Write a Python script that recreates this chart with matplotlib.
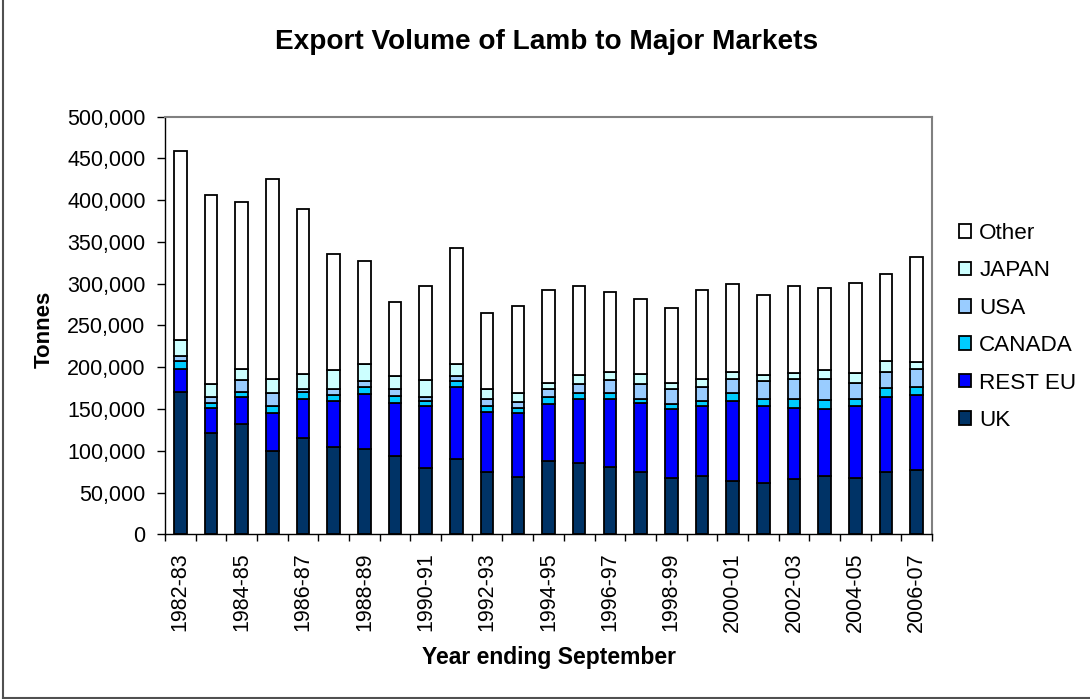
import matplotlib
matplotlib.use("Agg")
import matplotlib.pyplot as plt
from matplotlib.lines import Line2D
from matplotlib.ticker import FuncFormatter, FixedLocator
import numpy as np

plt.rcParams['font.family'] = ['Liberation Sans', 'DejaVu Sans']

years = ["1982-83", "1983-84", "1984-85", "1985-86", "1986-87", "1987-88",
         "1988-89", "1989-90", "1990-91", "1991-92", "1992-93", "1993-94",
         "1994-95", "1995-96", "1996-97", "1997-98", "1998-99", "1999-00",
         "2000-01", "2001-02", "2002-03", "2003-04", "2004-05", "2005-06",
         "2006-07"]

uk = [170700, 121600, 132000, 100100, 114900, 104500, 102100, 93700, 79000,
      89800, 74900, 68200, 87700, 85700, 80900, 74900, 67800, 70100, 64200,
      61800, 65800, 69800, 67800, 74900, 76600]
rest_eu = [27200, 29200, 32700, 44700, 47100, 55400, 65800, 63800, 74600,
           86900, 71900, 76600, 67900, 76300, 81100, 82600, 81800, 83500,
           95700, 91800, 85000, 79800, 85800, 89800, 89800]
canada = [9200, 6700, 6000, 8800, 8000, 6500, 8800, 8400, 6300, 6800, 6800,
          6700, 9100, 6800, 6800, 4800, 6400, 6300, 8900, 8700, 11500, 10800,
          8700, 10100, 10300]
usa = [6700, 6800, 13600, 15200, 3600, 7200, 7200, 7700, 4400, 6300, 8700,
       6900, 8900, 10700, 15500, 17200, 17600, 16800, 16700, 21200, 23600,
       25500, 18800, 19800, 21500]
japan = [18800, 15200, 13900, 17500, 18300, 23100, 19600, 16200, 20000, 13700,
         11300, 10400, 7900, 11200, 10300, 12700, 7900, 9200, 9100, 6800, 6800,
         11100, 11600, 13200, 7700]
other = [226400, 226600, 199600, 239000, 197500, 139200, 123600, 87900,
         113300, 138800, 91300, 104800, 110900, 106500, 95800, 89800, 89700,
         106500, 104700, 96100, 104500, 97800, 108500, 104100, 125700]

series = [
    ("UK", uk, "#003366"),
    ("REST EU", rest_eu, "#0000FF"),
    ("CANADA", canada, "#00CCFF"),
    ("USA", usa, "#99CCFF"),
    ("JAPAN", japan, "#CCFFFF"),
    ("Other", other, "#FFFFFF"),
]

fig = plt.figure(figsize=(10.9, 6.99), dpi=100)
ax = fig.add_axes([165 / 1090, 1 - 534.3 / 699, 767 / 1090, 417.6 / 699])

x = np.arange(len(years))
bottom = np.zeros(len(years))
handles = []
for name, vals, color in series:
    vals = np.array(vals, dtype=float)
    bars = ax.bar(x, vals, width=0.41, bottom=bottom, color=color,
                  edgecolor="black", linewidth=1.3, label=name, zorder=2)
    handles.append(bars)
    bottom += vals

ax.set_xlim(-0.5, len(years) - 0.5)
ax.set_ylim(0, 500000)
ax.set_yticks(np.arange(0, 500001, 50000))
ax.yaxis.set_major_formatter(FuncFormatter(lambda v, p: f"{int(v):,}"))
ax.tick_params(axis="y", direction="out", length=6, width=1, pad=8,
               labelsize=15.5)

# category labels on every other bar, tick marks between categories
ax.set_xticks(x)
ax.set_xticklabels([y if i % 2 == 0 else "" for i, y in enumerate(years)],
                   rotation=90)
ax.tick_params(axis="x", which="major", length=0, pad=13, labelsize=15.5)
ax.xaxis.set_minor_locator(FixedLocator(np.arange(-0.5, len(years), 1.0)))
ax.tick_params(axis="x", which="minor", direction="out", length=5, width=1)

for s in ("left", "bottom"):
    ax.spines[s].set_color("black")
    ax.spines[s].set_linewidth(1.0)
for s in ("top", "right"):
    ax.spines[s].set_color("#808080")
    ax.spines[s].set_linewidth(1.5)

ax.set_title("Export Volume of Lamb to Major Markets", fontsize=20.2,
             fontweight="bold", x=0.4974, y=1.162, pad=0)
ax.set_ylabel("Tonnes", fontsize=16, fontweight="bold", va="center")
ax.yaxis.set_label_coords(-0.157, 0.49)
ax.set_xlabel("Year ending September", fontsize=16.5, fontweight="bold",
              va="center")
ax.xaxis.set_label_coords(0.5, -0.294)

leg = fig.legend(handles[::-1], [s[0] for s in series][::-1],
                 loc="center left", bbox_to_anchor=(959 / 1090, 1 - 327 / 699),
                 frameon=False, fontsize=16.2, handlelength=0.55,
                 handleheight=0.55, handletextpad=0.35, labelspacing=0.73,
                 borderpad=0, borderaxespad=0)

# outer chart border
fig.add_artist(Line2D([3 / 1090, 3 / 1090], [1.5 / 699, 1], color="#505050",
                      linewidth=1.5, transform=fig.transFigure))
fig.add_artist(Line2D([3 / 1090, 1], [1.5 / 699, 1.5 / 699], color="#505050",
                      linewidth=1.5, transform=fig.transFigure))

fig.savefig("out.png", dpi=100, facecolor="white")
